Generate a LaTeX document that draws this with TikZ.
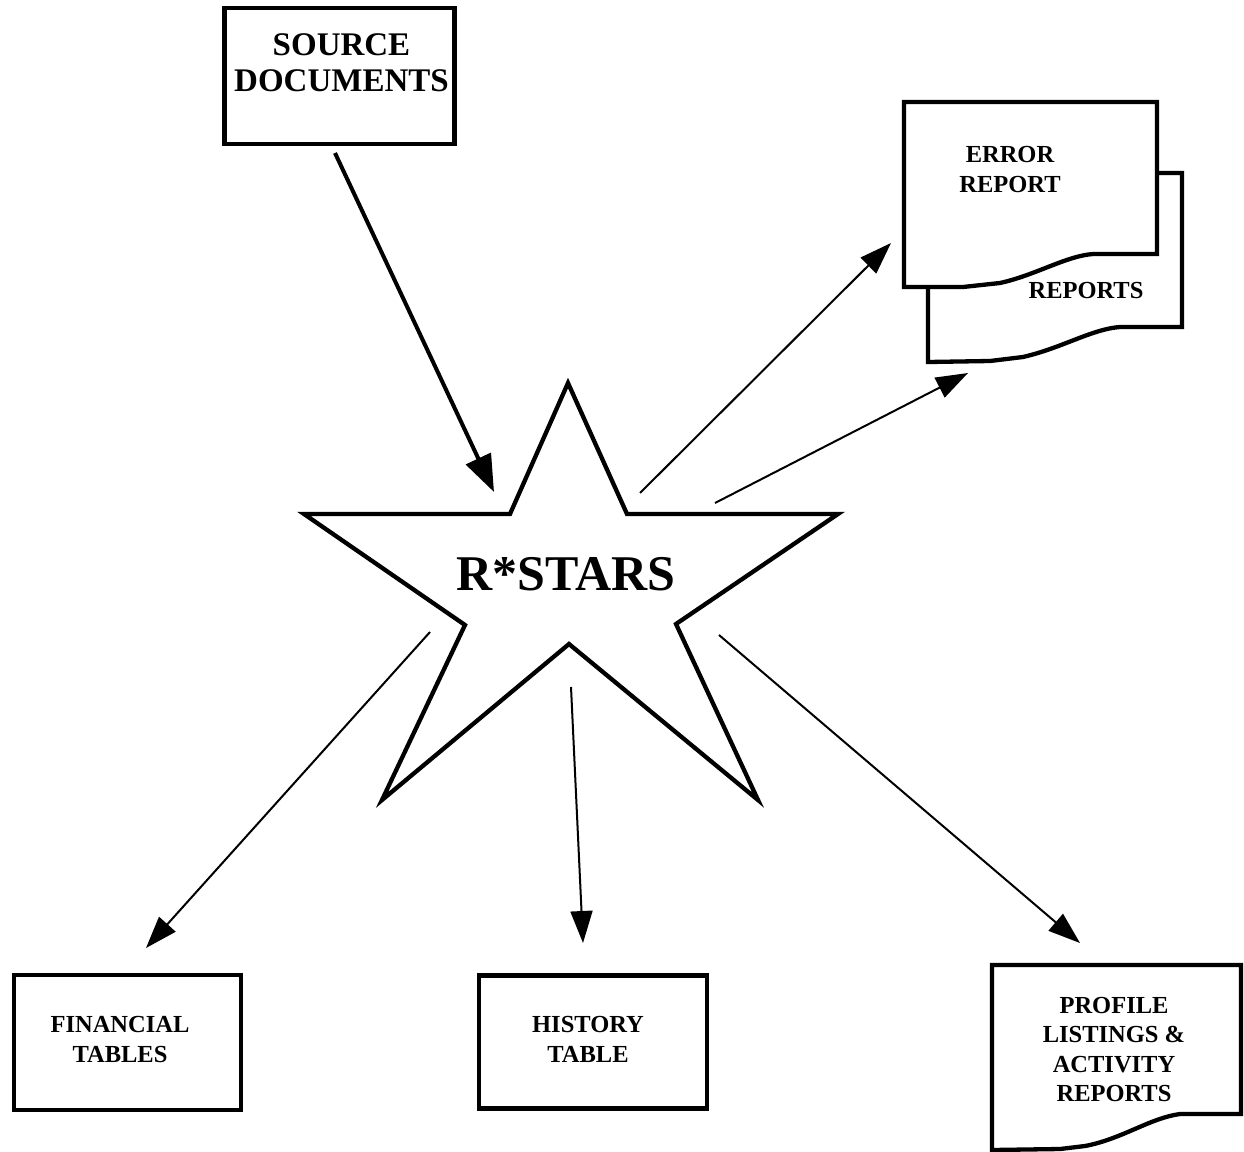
\documentclass[tikz,border=0pt]{standalone}
\usepackage{fontspec}
\setmainfont{Liberation Serif}
\usetikzlibrary{arrows.meta}
\begin{document}
\begin{tikzpicture}[x=1pt,y=-1pt,
  boxshape/.style={draw,line width=4.3pt,minimum width=#1,inner sep=0pt},
  lbl/.style={font=\bfseries\fontsize{24.5}{29.5}\selectfont,align=center,inner sep=0pt},
  docshape/.style={draw,line width=4.3pt,fill=white,line join=miter},
  thinarrow/.style={line width=2pt,-{Triangle[length=32pt,width=22pt]}},
  thickarrow/.style={line width=4pt,-{Triangle[length=37pt,width=27pt]}}]
\useasboundingbox (0,0) rectangle (1244,1151);
\fill[white] (0,0) rectangle (1244,1151);

% boxes
\node[boxshape=230pt,minimum height=136pt] (src) at (339.5,76) {};
\node[font=\bfseries\fontsize{33}{36}\selectfont,align=center,inner sep=0pt] (srctxt) at (341.5,63) {SOURCE\\DOCUMENTS};
\node[boxshape=227.6pt,minimum height=135pt] (fin) at (127.5,1042.5) {};
\node[lbl] (fintxt) at (120,1039.5) {FINANCIAL\\TABLES};
\node[boxshape=228pt,minimum height=133pt] (hist) at (593,1042) {};
\node[lbl] (histtxt) at (588,1039.5) {HISTORY\\TABLE};

% reports documents
\draw[docshape] (928,173) -- (1182,173) -- (1182,327) -- (1120,327)
  .. controls (1092,329) and (1062,348) .. (1023,357) -- (990,361) -- (928,362) -- cycle;
\draw[docshape] (904,102) -- (1157,102) -- (1157,254) -- (1093,254)
  .. controls (1066,256) and (1036,275) .. (1000,283) -- (963,287) -- (904,287) -- cycle;
\node[lbl] (errtxt) at (1010,169.5) {ERROR\\REPORT};
\node[lbl] (reptxt) at (1086,290.5) {REPORTS};

% profile document
\draw[docshape] (992,965) -- (1241,965) -- (1241,1114) -- (1180,1114)
  .. controls (1150,1118) and (1122,1139) .. (1085,1146) -- (1060,1149) -- (992,1150) -- cycle;
\node[lbl] (proftxt) at (1114,1049.5) {PROFILE\\LISTINGS \&\\ACTIVITY\\REPORTS};

% star
\draw[line width=4.3pt,line join=miter]
  (568,383) -- (510,514) -- (304,514) -- (465,625) -- (382,800) -- (569,644)
  -- (758,800) -- (676,624) -- (838,514) -- (627,514) -- cycle;
\node[font=\bfseries\fontsize{50}{55}\selectfont,inner sep=0pt] (star) at (566,574) {R*STARS};

% arrow end points
\coordinate (a1s) at (335,153); \coordinate (a1e) at (494,492);
\coordinate (a2s) at (640,493); \coordinate (a2e) at (891,243);
\coordinate (a3s) at (715,503); \coordinate (a3e) at (968,373);
\coordinate (a4s) at (430,632); \coordinate (a4e) at (146,948);
\coordinate (a5s) at (571,687); \coordinate (a5e) at (583,943);
\coordinate (a6s) at (719,635); \coordinate (a6e) at (1080,943);

\draw[thickarrow] (a1s) -- (a1e);
\draw[thinarrow] (a2s) -- (a2e);
\draw[thinarrow] (a3s) -- (a3e);
\draw[thinarrow] (a4s) -- (a4e);
\draw[thinarrow] (a5s) -- (a5e);
\draw[thinarrow] (a6s) -- (a6e);
\end{tikzpicture}
\end{document}
